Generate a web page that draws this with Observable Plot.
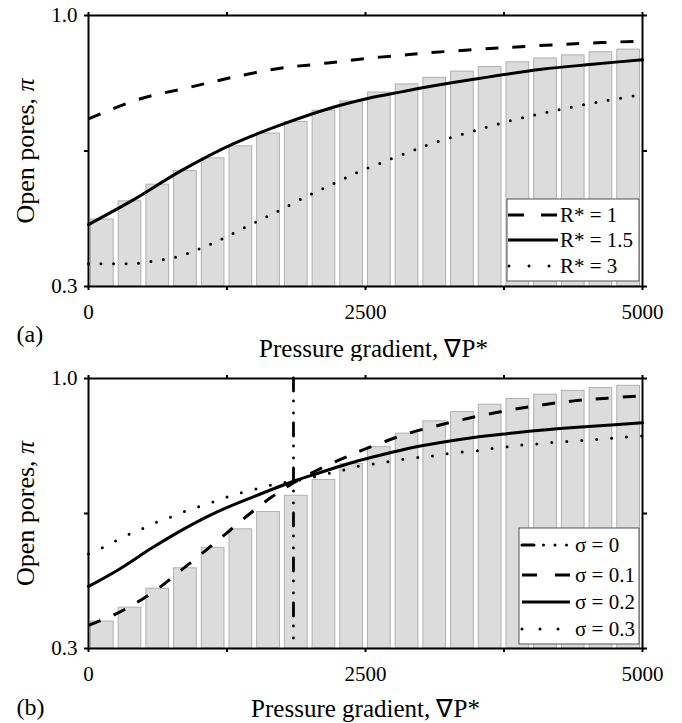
<!DOCTYPE html>
<html><head><meta charset="utf-8">
<script src="https://cdn.jsdelivr.net/npm/d3@7"></script>
<script src="https://cdn.jsdelivr.net/npm/@observablehq/plot@0.6"></script>
<style>
body{margin:0;background:#fff;}
#wrap{position:relative;width:682px;height:723px;font-family:"Liberation Serif","Times New Roman",serif;}
.panel{position:absolute;left:0;}
</style></head><body>
<div id="wrap"><div id="pa" class="panel" style="top:0px"></div><div id="pb" class="panel" style="top:361px"></div></div>
<script>
// ---------- data ----------
const binStart = [0,250,500,750,1000,1250,1500,1750,2000,2250,2500,2750,3000,3250,3500,3750,4000,4250,4500,4750];
const binWidth = 250;
const barsA = [0.473,0.520,0.563,0.598,0.631,0.662,0.695,0.725,0.754,0.778,0.801,0.822,0.839,0.855,0.867,0.879,0.889,0.897,0.905,0.912];
const barsB = [0.370,0.406,0.455,0.508,0.561,0.609,0.654,0.696,0.737,0.778,0.822,0.857,0.889,0.913,0.932,0.947,0.958,0.968,0.975,0.981];

const xTicks = [0,1250,2500,3750,5000];
const xTickLabels = ["0","","2500","","5000"];
const yTicks = [0.3,0.65,1.0];
const yTickLabels = ["0.3","","1.0"];

// panel (a): R* series
const curveR1 = [[0,0.733],[470,0.785],[890,0.813],[1280,0.839],[1730,0.864],[2020,0.873],[2270,0.881],[2540,0.890],[2810,0.897],[3040,0.903],[3700,0.916],[4390,0.927],[5000,0.934]];
const curveR15 = [[0,0.460],[400,0.523],[830,0.598],[1310,0.669],[1760,0.720],[2210,0.763],[2510,0.785],[2850,0.804],[3090,0.817],[3490,0.836],[4090,0.861],[4550,0.874],[5000,0.886]];
const curveR3 = [[0,0.359],[330,0.359],[480,0.361],[620,0.367],[760,0.374],[870,0.383],[980,0.395],[1090,0.408],[1270,0.432],[1500,0.465],[1700,0.493],[1970,0.533],[2200,0.564],[2420,0.594],[2630,0.618],[2880,0.646],[3100,0.669],[3430,0.698],[3650,0.716],[3890,0.734],[4140,0.750],[4390,0.765],[4670,0.780],[4940,0.793],[5000,0.796]];

// panel (b): sigma series
const sigma0X = [1850];
const curveS01 = [[0,0.360],[230,0.387],[430,0.418],[630,0.456],[845,0.505],[1040,0.550],[1250,0.600],[1450,0.648],[1640,0.690],[1840,0.728],[2090,0.766],[2290,0.792],[2460,0.813],[2670,0.836],[2880,0.857],[3180,0.880],[3480,0.900],[3780,0.917],[4080,0.931],[4380,0.942],[4680,0.949],[5000,0.955]];
const curveS02 = [[0,0.461],[274,0.505],[575,0.561],[875,0.612],[1176,0.656],[1477,0.692],[1844,0.733],[2079,0.755],[2320,0.777],[2575,0.797],[2876,0.818],[3177,0.834],[3477,0.847],[3778,0.857],[4079,0.866],[4380,0.873],[4681,0.879],[5000,0.885]];
const curveS03 = [[0,0.545],[138,0.563],[274,0.583],[394,0.600],[499,0.612],[605,0.626],[701,0.636],[809,0.649],[911,0.660],[1011,0.669],[1116,0.679],[1221,0.690],[1333,0.700],[1447,0.709],[1582,0.718],[1688,0.727],[1840,0.733],[2304,0.763],[2440,0.773],[2590,0.779],[2726,0.785],[2876,0.792],[3011,0.796],[3131,0.800],[3297,0.807],[3522,0.813],[3658,0.819],[3809,0.824],[3929,0.828],[4079,0.831],[4229,0.835],[4380,0.838],[4531,0.841],[4681,0.844],[4832,0.848],[5000,0.851]];

const legendA = ["R* = 1","R* = 1.5","R* = 3"];
const legendB = ["σ = 0","σ = 0.1","σ = 0.2","σ = 0.3"];

// ---------- helpers ----------
const FONT = "Liberation Serif, Times New Roman, serif";
const xLab = new Map(xTicks.map((t,i)=>[t,xTickLabels[i]]));
const yLab = new Map(yTicks.map((t,i)=>[t,yTickLabels[i]]));
const dashed = {strokeDasharray:"13,14", strokeLinecap:"butt"};
const dotted = s => ({strokeDasharray:`0,${s}`, strokeLinecap:"round"});

function barsOf(vals){ return binStart.map((s,i)=>({x1:s, x2:s+binWidth, v:vals[i]})); }

function makePanel({bars, lines, extra, tag, height, marginTop, titleDx, titleDy, tagDy}) {
  const marks = [
    Plot.rectY(barsOf(bars), {x1:"x1", x2:"x2", y1:0.3, y2:"v", insetLeft:2.5, insetRight:2.5, fill:"#dcdcdc", stroke:"#b0b0b0", strokeWidth:1}),
    ...(extra||[]),
    ...lines.map(([data, st]) => Plot.line(data, {x:d=>d[0], y:d=>d[1], stroke:"black", strokeWidth:3, curve:"catmull-rom", ...st})),
    Plot.frame({stroke:"black", strokeWidth:2}),
    Plot.axisX({anchor:"bottom", ticks:xTicks, tickSize:4, tickPadding:14, tickFormat:d=>xLab.get(d) ?? "", strokeWidth:2, fontSize:21, label:null}),
    Plot.axisX({anchor:"top", ticks:xTicks, tickSize:4, tickFormat:()=>"", strokeWidth:2, label:null}),
    Plot.axisY({anchor:"left", ticks:yTicks, tickSize:4, tickPadding:7, tickFormat:d=>yLab.get(d) ?? "", strokeWidth:2, fontSize:21, label:null}),
    Plot.axisY({anchor:"right", ticks:yTicks, tickSize:4, tickFormat:()=>"", strokeWidth:2, label:null}),
    Plot.text(["Pressure gradient, ∇P*"], {text:d=>d, frameAnchor:"bottom", textAnchor:"middle", lineAnchor:"middle", dx:titleDx, dy:titleDy, fontSize:25}),
    Plot.text([tag], {text:d=>d, frameAnchor:"bottom-left", textAnchor:"start", lineAnchor:"middle", dx:-72, dy:tagDy, fontSize:24}),
    Plot.text(["Open pores, π"], {text:d=>d, frameAnchor:"left", textAnchor:"middle", lineAnchor:"middle", dx:-63, rotate:-90, fontSize:26})
  ];
  const svg = Plot.plot({
    width:682, height, marginTop, marginBottom:75, marginLeft:88, marginRight:40,
    style:{fontFamily:FONT, fontSize:"21px", color:"black", background:"white", overflow:"visible"},
    x:{domain:[0,5000]}, y:{domain:[0.3,1.0]},
    marks
  });
  d3.select(svg).selectAll("text").filter(function(){return this.textContent==="Open pores, π";})
    .each(function(){ const t=d3.select(this); t.text("Open pores, "); t.append("tspan").style("font-style","italic").text("π"); });
  return svg;
}

function addLegend(svg, {x, y, w, h, rows, sx0, sx1, tx, items}) {
  const g = d3.select(svg).append("g").attr("font-family", FONT).attr("font-size", 21).attr("text-anchor","start");
  g.append("rect").attr("x",x).attr("y",y).attr("width",w).attr("height",h).attr("fill","white").attr("stroke","#555").attr("stroke-width",1);
  items.forEach((it,i)=>{
    const yy = rows[i];
    g.append("line").attr("x1",sx0 + (it.off0||0)).attr("x2",it.x1 ?? sx1).attr("y1",yy).attr("y2",yy)
      .attr("stroke","black").attr("stroke-width",it.w||3)
      .attr("stroke-dasharray",it.dash||null).attr("stroke-linecap",it.cap||"butt");
    g.append("text").attr("x",tx).attr("y",yy).attr("dy","0.34em").attr("fill","black").text(it.label);
  });
}

// ---------- panel (a) ----------
const svgA = makePanel({
  bars: barsA,
  lines: [[curveR1, dashed],[curveR15, {}],[curveR3, dotted(12.5)]],
  tag:"(a)", height:361, marginTop:15, titleDx:8, titleDy:62, tagDy:48
});
addLegend(svgA, {x:507, y:199, w:132, h:82, rows:[215,240,266], sx0:508, sx1:558, tx:560,
  items:[
    {label:legendA[0], dash:"16,17,16"},
    {label:legendA[1]},
    {label:legendA[2], dash:"0,20", cap:"round", x1:550, off0:1}
  ]});
document.getElementById("pa").appendChild(svgA);

// ---------- panel (b) ----------
const svgB = makePanel({
  bars: barsB,
  extra: [Plot.ruleX(sigma0X, {stroke:"black", strokeWidth:2.8, strokeDasharray:"13,10,0,12,0,10", strokeLinecap:"round"})],
  lines: [[curveS01, dashed],[curveS02, {}],[curveS03, dotted(15)]],
  tag:"(b)", height:362, marginTop:17, titleDx:0, titleDy:60, tagDy:59
});
addLegend(svgB, {x:519, y:167, w:120, h:116, rows:[184,214,241,268], sx0:522, sx1:570, tx:575,
  items:[
    {label:legendB[0], dash:"12,9.5,0,11.5,0,11.5,0,40", cap:"round", x1:568},
    {label:legendB[1], dash:"15,18,15"},
    {label:legendB[2]},
    {label:legendB[3], dash:"0,18", cap:"round", x1:560}
  ]});
document.getElementById("pb").appendChild(svgB);
</script>
</body></html>
